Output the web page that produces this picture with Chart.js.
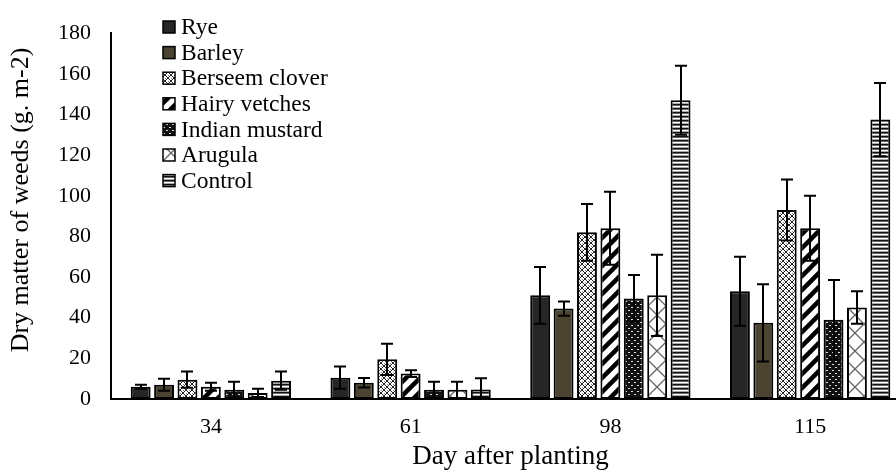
<!DOCTYPE html>
<html><head><meta charset="utf-8">
<script src="https://cdn.jsdelivr.net/npm/chart.js@4/dist/chart.umd.min.js"></script>
<style>html,body{margin:0;padding:0;background:#fff;overflow:hidden;width:896px;height:473px}canvas{display:block}</style>
</head><body>
<canvas id="c" width="910" height="473"></canvas>
<script>
const categories = ['34', '61', '98', '115'];
const seriesNames = ['Rye', 'Barley', 'Berseem clover', 'Hairy vetches', 'Indian mustard', 'Arugula', 'Control'];
const yTicks = [0, 20, 40, 60, 80, 100, 120, 140, 160, 180];
const xTitle = 'Day after planting';
const yTitle = 'Dry matter of weeds (g. m-2)';

const rye      = [6, 10.5, 51, 53];
const barley   = [7, 8, 44.5, 37.5];
const berseem  = [9.5, 19.5, 82, 93];
const hairy    = [6, 12.5, 84, 84];
const mustard  = [4.5, 4.5, 49.5, 39];
const arugula  = [3, 4.5, 51, 45];
const control  = [9, 4.7, 147, 137.5];

const ryeErr     = [1, 5.5, 14, 17];
const barleyErr  = [3, 2.3, 3.5, 19];
const berseemErr = [4, 7.7, 14, 15];
const hairyErr   = [2, 1.7, 18, 16];
const mustardErr = [4, 4, 11.5, 19.5];
const arugulaErr = [2, 4, 20, 8];
const controlErr = [4.5, 5.5, 17, 18];

const FONT = 'Liberation Serif';
const ctx0 = document.getElementById('c').getContext('2d');

function makePattern(w, h, draw) {
  const c = document.createElement('canvas');
  c.width = w; c.height = h;
  const g = c.getContext('2d');
  draw(g, w, h);
  return ctx0.createPattern(c, 'repeat');
}

const pBerseem = makePattern(6, 6, (g, w, h) => {
  g.fillStyle = '#fff'; g.fillRect(0, 0, w, h);
  g.fillStyle = '#222';
  for (let i = 0; i < 6; i++) { g.fillRect(i, i, 1, 1); g.fillRect(5 - i, i, 1, 1); }
  g.fillStyle = '#888';
  g.fillRect(0, 3, 1, 1); g.fillRect(3, 0, 1, 1);
});
const pHairy = makePattern(14, 14, (g, w, h) => {
  g.fillStyle = '#fff'; g.fillRect(0, 0, w, h);
  g.strokeStyle = '#000'; g.lineWidth = 4.5;
  for (let k = -1; k <= 1; k++) {
    g.beginPath(); g.moveTo(k * w - 2, h + 2); g.lineTo(k * w + w + 2, -2); g.stroke();
  }
});
const pMustard = makePattern(6, 6, (g, w, h) => {
  g.fillStyle = '#111'; g.fillRect(0, 0, w, h);
  g.fillStyle = '#ddd';
  g.fillRect(1, 1, 2, 1); g.fillRect(4, 4, 2, 1);
});
const pArugula = makePattern(18, 18, (g, w, h) => {
  g.fillStyle = '#fff'; g.fillRect(0, 0, w, h);
  g.strokeStyle = '#666'; g.lineWidth = 1.3;
  g.beginPath(); g.moveTo(0, 0); g.lineTo(w, h); g.moveTo(w, 0); g.lineTo(0, h); g.stroke();
});
const pControl = makePattern(4, 4, (g, w, h) => {
  g.fillStyle = '#111'; g.fillRect(0, 0, w, 1);
  g.fillStyle = '#666'; g.fillRect(0, 1, w, 1);
  g.fillStyle = '#fff'; g.fillRect(0, 2, w, 1);
  g.fillStyle = '#aaa'; g.fillRect(0, 3, w, 1);
});

const seriesValues = [rye, barley, berseem, hairy, mustard, arugula, control];
const seriesErrors = [ryeErr, barleyErr, berseemErr, hairyErr, mustardErr, arugulaErr, controlErr];
const fills = ['#262626', '#4b4430', pBerseem, pHairy, pMustard, pArugula, pControl];

const errorBars = {
  id: 'errorBars',
  afterDatasetsDraw(chart) {
    const { ctx } = chart;
    const ys = chart.scales.y;
    ctx.save();
    ctx.strokeStyle = '#000';
    ctx.lineWidth = 2;
    chart.data.datasets.forEach((ds, i) => {
      const meta = chart.getDatasetMeta(i);
      meta.data.forEach((bar, j) => {
        const v = ds.data[j], e = seriesErrors[i][j];
        const x = Math.round(bar.x);
        const yt = ys.getPixelForValue(v + e), yb = ys.getPixelForValue(Math.max(0, v - e));
        ctx.beginPath();
        ctx.moveTo(x, yt); ctx.lineTo(x, yb);
        ctx.moveTo(x - 6, yt); ctx.lineTo(x + 6, yt);
        ctx.moveTo(x - 6, yb); ctx.lineTo(x + 6, yb);
        ctx.stroke();
      });
    });
    ctx.restore();
  }
};

const customLegend = {
  id: 'customLegend',
  afterDraw(chart) {
    const { ctx } = chart;
    ctx.save();
    ctx.font = '23.5px "' + FONT + '", serif';
    ctx.textBaseline = 'middle';
    ctx.textAlign = 'left';
    chart.data.datasets.forEach((ds, i) => {
      const cy = 27 + i * 25.6;
      ctx.fillStyle = ds.backgroundColor;
      ctx.fillRect(163, cy - 6, 12, 12);
      ctx.strokeStyle = '#000'; ctx.lineWidth = 1.5;
      ctx.strokeRect(163, cy - 6, 12, 12);
      ctx.fillStyle = '#000';
      ctx.fillText(ds.label, 181, cy + 1);
    });
    ctx.restore();
  }
};

const yAxisTitle = {
  id: 'yAxisTitle',
  afterDraw(chart) {
    const { ctx } = chart;
    ctx.save();
    ctx.translate(21.5, 200);
    ctx.rotate(-Math.PI / 2);
    ctx.font = '26px "' + FONT + '", serif';
    ctx.textAlign = 'center';
    ctx.textBaseline = 'middle';
    ctx.fillStyle = '#000';
    ctx.fillText(yTitle, 0, 0);
    ctx.restore();
  }
};

new Chart(ctx0, {
  type: 'bar',
  data: {
    labels: categories,
    datasets: seriesNames.map((n, i) => ({
      label: n,
      data: seriesValues[i],
      backgroundColor: fills[i],
      borderColor: '#000',
      borderWidth: 2,
      borderSkipped: false,
      categoryPercentage: 0.82,
      barPercentage: 0.85
    }))
  },
  options: {
    responsive: false,
    animation: false,
    layout: { padding: { left: 0, top: 22, right: 0, bottom: 0 } },
    plugins: { legend: { display: false }, tooltip: { enabled: false } },
    scales: {
      x: {
        grid: { display: false, drawTicks: false },
        border: { color: '#000', width: 2 },
        ticks: { font: { family: FONT, size: 22 }, color: '#000', padding: 15 },
        title: { display: true, text: xTitle, font: { family: FONT, size: 27 }, color: '#000', padding: { top: 0, bottom: 0 } },
        afterFit(s) { s.height = 74; }
      },
      y: {
        min: 0, max: 180,
        afterBuildTicks(s) { s.ticks = yTicks.map(v => ({ value: v })); },
        grid: { display: false, drawTicks: false },
        border: { color: '#000', width: 2 },
        ticks: { font: { family: FONT, size: 22 }, color: '#000', padding: 20 },
        title: { display: false },
        afterFit(s) { s.width = 111; }
      }
    }
  },
  plugins: [errorBars, customLegend, yAxisTitle]
});
</script>
</body></html>
